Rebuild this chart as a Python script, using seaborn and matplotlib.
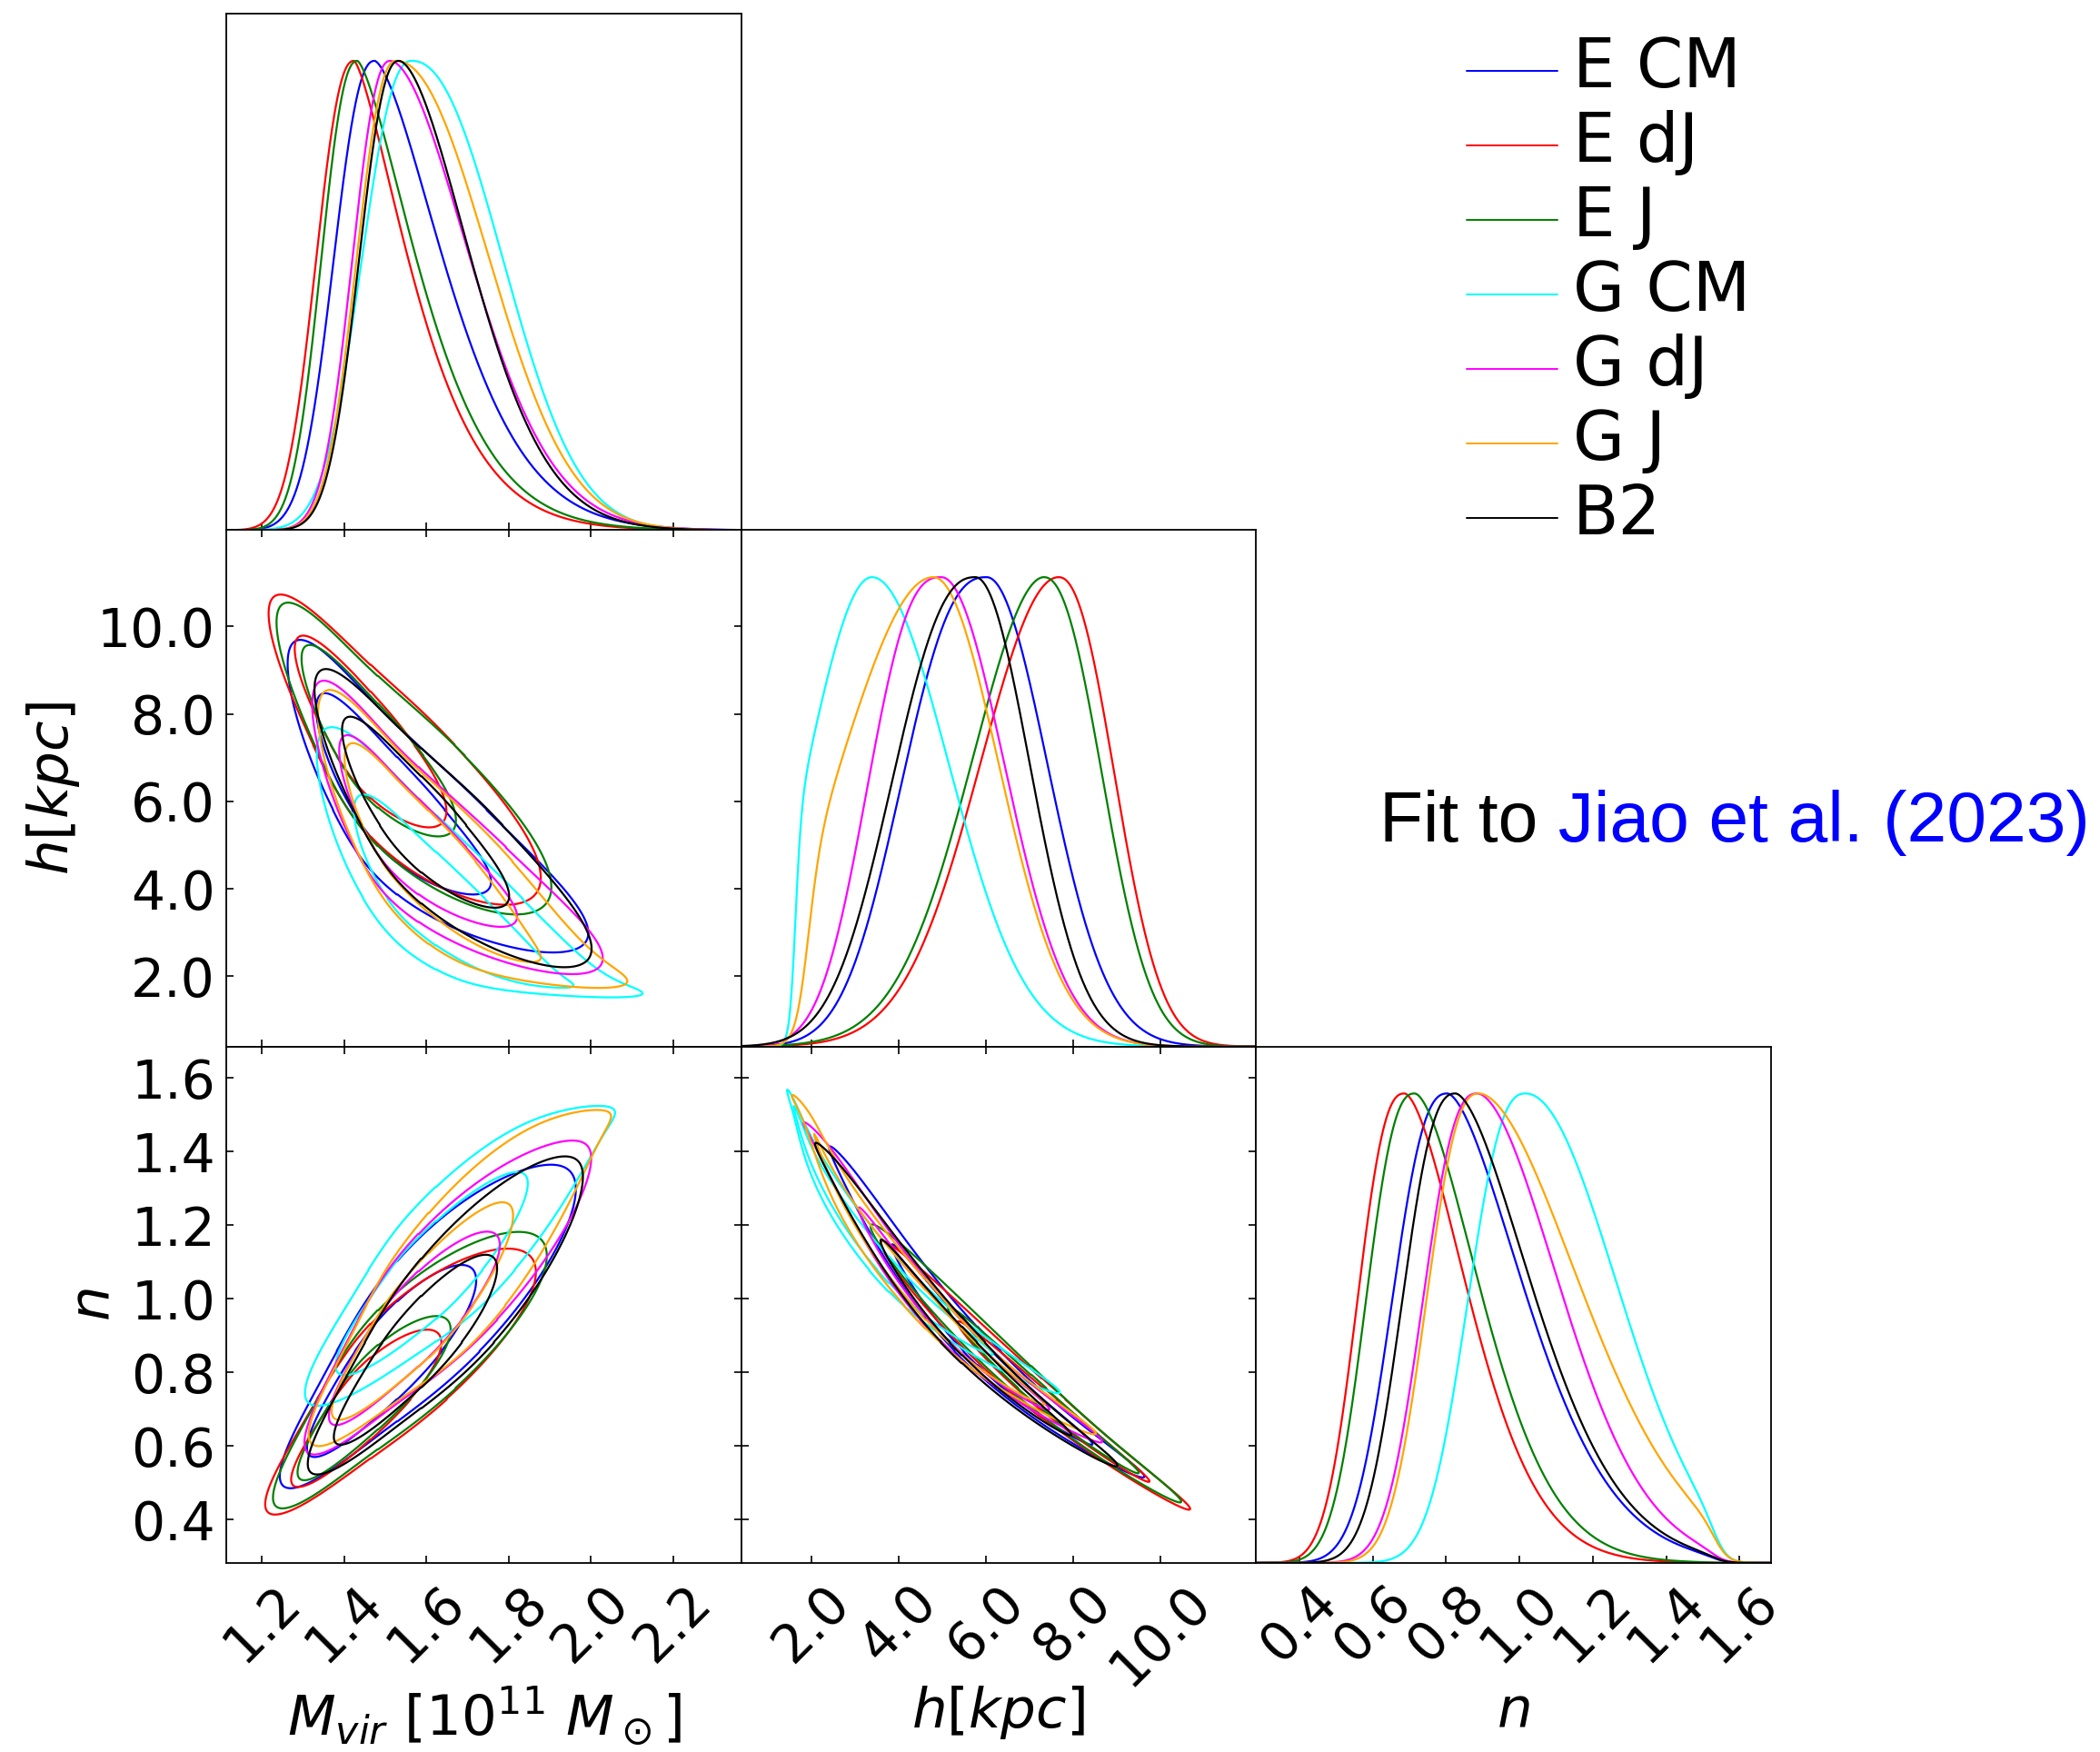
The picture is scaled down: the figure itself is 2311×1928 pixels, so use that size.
import math
import numpy as np
import pandas as pd
import matplotlib
matplotlib.use("Agg")
import matplotlib.pyplot as plt
from matplotlib.lines import Line2D
from matplotlib.ticker import FormatStrFormatter
import seaborn as sns

# ---------------------------------------------------------------- data
labels = ["E CM", "E dJ", "E J", "G CM", "G dJ", "G J", "B2"]
colors = ["blue", "red", "green", "cyan", "magenta", "orange", "black"]

# Marginal posteriors: mode, half width at half maximum below / above the
# mode, tail exponent on each side (2 = Gaussian fall-off) and soft lower /
# upper bounds with their edge widths.
mvir_peak = [1.474, 1.424, 1.432, 1.564, 1.512, 1.526, 1.533]
mvir_hw_lo = [0.110, 0.102, 0.097, 0.134, 0.102, 0.106, 0.107]
mvir_hw_hi = [0.194, 0.156, 0.169, 0.247, 0.222, 0.254, 0.201]
mvir_p_lo = [2.3, 2.3, 2.3, 2.3, 2.3, 2.3, 2.3]
mvir_p_hi = [1.55, 1.40, 1.45, 2.2, 1.8, 2.1, 1.75]
mvir_bound_lo = [0.0, 0.0, 0.0, 0.0, 0.0, 0.0, 0.0]
mvir_bound_hi = [9.0, 9.0, 9.0, 9.0, 9.0, 9.0, 9.0]
mvir_edge = [0.05, 0.05, 0.05, 0.05, 0.05, 0.05, 0.05]

h_peak = [6.02, 7.67, 7.33, 3.39, 4.98, 4.80, 5.76]
h_hw_lo = [2.10, 2.10, 1.96, 1.73, 1.80, 2.51, 2.07]
h_hw_hi = [1.63, 1.43, 1.49, 2.06, 1.69, 1.75, 1.46]
h_p_lo = [2.5, 2.0, 1.9, 2.0, 2.6, 2.0, 2.4]
h_p_hi = [2.0, 2.2, 2.2, 2.0, 2.0, 2.0, 2.0]
h_bound_lo = [0.0, 0.0, 0.0, 1.62, 0.0, 1.88, 0.0]
h_bound_hi = [30.0, 30.0, 30.0, 30.0, 30.0, 30.0, 30.0]
h_edge = [0.10, 0.10, 0.10, 0.07, 0.10, 0.15, 0.10]

n_peak = [0.804, 0.687, 0.715, 1.017, 0.885, 0.890, 0.826]
n_hw_lo = [0.162, 0.138, 0.143, 0.169, 0.159, 0.154, 0.156]
n_hw_hi = [0.244, 0.198, 0.207, 0.287, 0.261, 0.321, 0.245]
n_p_lo = [2.5, 2.5, 2.5, 2.5, 2.5, 2.5, 2.5]
n_p_hi = [1.63, 1.66, 1.67, 2.0, 1.8, 1.8, 1.65]
n_bound_lo = [0.0, 0.0, 0.0, 0.0, 0.0, 0.0, 0.0]
n_bound_hi = [1.54, 1.54, 1.54, 1.54, 1.54, 1.54, 1.54]
n_edge = [0.02, 0.02, 0.02, 0.02, 0.02, 0.02, 0.02]

# Pairwise correlations (Gaussian copula)
rho_mvir_h = [-0.85, -0.85, -0.85, -0.84, -0.85, -0.85, -0.86]
rho_mvir_n = [0.88, 0.88, 0.88, 0.87, 0.88, 0.88, 0.89]
rho_h_n = [-0.99, -0.99, -0.99, -0.99, -0.99, -0.99, -0.99]

axis_ranges = [(1.114, 2.366), (0.393, 12.198), (0.282, 1.685)]
axis_ticks = [[1.2, 1.4, 1.6, 1.8, 2.0, 2.2],
              [2.0, 4.0, 6.0, 8.0, 10.0],
              [0.4, 0.6, 0.8, 1.0, 1.2, 1.4, 1.6]]
axis_labels = [r"$M_{vir}$ [$10^{11}$ $M_\odot$]", r"$h[kpc]$", r"$n$"]
contour_mass = [0.95, 0.68]

shapes = [
    (mvir_peak, mvir_hw_lo, mvir_hw_hi, mvir_p_lo, mvir_p_hi,
     mvir_bound_lo, mvir_bound_hi, mvir_edge),
    (h_peak, h_hw_lo, h_hw_hi, h_p_lo, h_p_hi, h_bound_lo, h_bound_hi, h_edge),
    (n_peak, n_hw_lo, n_hw_hi, n_p_lo, n_p_hi, n_bound_lo, n_bound_hi, n_edge),
]
pair_rho = {(1, 0): rho_mvir_h, (2, 0): rho_mvir_n, (2, 1): rho_h_n}


def shape_of(k, s):
    return tuple(arr[s] for arr in shapes[k])


def sigmoid(u):
    return 0.5 * (1.0 + np.tanh(0.5 * u))


def marginal(x, peak, hw_lo, hw_hi, p_lo, p_hi, b_lo, b_hi, edge):
    """Two-sided peaked profile (value 1/2 at peak -/+ half widths) with soft bounds."""
    d = x - peak
    lo = d < 0
    hw = np.where(lo, hw_lo, hw_hi)
    p = np.where(lo, p_lo, p_hi)
    sigma = hw / (2.0 * np.log(2.0)) ** (1.0 / p)
    f = np.exp(-0.5 * (np.abs(d) / sigma) ** p)
    return f * sigmoid((x - b_lo) / edge) * sigmoid((b_hi - x) / edge)


# standard normal table for the copula transform
_zt = np.linspace(-8.5, 8.5, 34001)
_phi = 0.5 * (1.0 + np.vectorize(math.erf)(_zt / math.sqrt(2.0)))


def normal_scores(x, f):
    """Gaussian scores of the cumulative marginal evaluated on grid x."""
    dx = np.gradient(x)
    cdf = np.cumsum(f * dx)
    sf = np.cumsum((f * dx)[::-1])[::-1]
    tot = cdf[-1]
    cdf = np.clip(cdf / tot, 1e-15, 1.0)
    sf = np.clip(sf / tot, 1e-15, 1.0)
    z_lo = np.interp(cdf, _phi, _zt)
    z_hi = -np.interp(sf, _phi, _zt)
    return np.where(cdf < 0.5, z_lo, z_hi)


def mass_levels(dens, fracs):
    flat = np.sort(dens.ravel())[::-1]
    cum = np.cumsum(flat)
    cum /= cum[-1]
    return sorted(flat[np.searchsorted(cum, f)] for f in fracs)


# ---------------------------------------------------------------- style
sns.set_style("ticks")
plt.rcParams.update({
    "font.family": ["DejaVu Sans"],
    "mathtext.fontset": "dejavusans",
    "axes.edgecolor": "black",
    "axes.linewidth": 1.3,
    "xtick.color": "black",
    "ytick.color": "black",
    "text.color": "black",
    "axes.labelcolor": "black",
})

fig = plt.figure(figsize=(23.11, 19.28), dpi=100)
L0, W, T0, H = 0.1079, 0.2451, 0.99206, 0.2947
axes = {}
for i in range(3):
    for j in range(i + 1):
        axes[i, j] = fig.add_axes([L0 + j * W, T0 - (i + 1) * H, W, H])

palette = dict(zip(labels, colors))
LW = 1.6
TICK_FS = 42
LABEL_FS = 44
NGRID = 700

# ---------------------------------------------------------------- 1D marginals
for k in range(3):
    ax = axes[k, k]
    x = np.linspace(*axis_ranges[k], 900)
    frames = []
    for s in range(len(labels)):
        f = marginal(x, *shape_of(k, s))
        frames.append(pd.DataFrame({"x": x, "density": f / f.max(),
                                    "model": labels[s]}))
    df = pd.concat(frames, ignore_index=True)
    sns.lineplot(data=df, x="x", y="density", hue="model", hue_order=labels,
                 palette=palette, estimator=None, sort=False, legend=False,
                 linewidth=LW, ax=ax)
    ax.set_xlim(axis_ranges[k])
    ax.set_ylim(0, 1.1)
    ax.set_yticks([])
    ax.set_ylabel("")
    ax.set_xlabel("")
    ax.tick_params(axis="x", direction="in", length=6, width=1.2,
                   labelsize=TICK_FS, top=False, bottom=True, pad=10)

# ---------------------------------------------------------------- 2D contours
for (i, j), rhos in pair_rho.items():
    ax = axes[i, j]
    xs = np.linspace(*axis_ranges[j], NGRID)
    ys = np.linspace(*axis_ranges[i], NGRID)
    X, Y = np.meshgrid(xs, ys)
    for s in range(len(labels)):
        fx = marginal(xs, *shape_of(j, s))
        fy = marginal(ys, *shape_of(i, s))
        zx = normal_scores(xs, fx)
        zy = normal_scores(ys, fy)
        ZX, ZY = np.meshgrid(zx, zy)
        FX, FY = np.meshgrid(fx, fy)
        r = rhos[s]
        Q = (ZX ** 2 - 2 * r * ZX * ZY + ZY ** 2) / (1 - r ** 2)
        logd = -0.5 * Q + 0.5 * (ZX ** 2 + ZY ** 2) + np.log(FX + 1e-300) + np.log(FY + 1e-300)
        D = np.exp(logd - logd.max())
        ax.contour(X, Y, D, levels=mass_levels(D, contour_mass),
                   colors=[colors[s]], linewidths=LW)
    ax.set_xlim(axis_ranges[j])
    ax.set_ylim(axis_ranges[i])
    ax.set_yticks(axis_ticks[i])
    ax.tick_params(direction="in", length=6, width=1.2, labelsize=TICK_FS,
                   top=True, right=True, bottom=True, left=True)
    ax.tick_params(axis="y", pad=9)
    ax.tick_params(axis="x", pad=10)
    ax.yaxis.set_major_formatter(FormatStrFormatter("%.1f"))
    if j > 0:
        ax.tick_params(axis="y", labelleft=False)

# shared tick layout
for (i, j), ax in axes.items():
    ax.set_xticks(axis_ticks[j])
    ax.xaxis.set_major_formatter(FormatStrFormatter("%.1f"))
    if i < 2:
        ax.tick_params(axis="x", labelbottom=False)
    else:
        ax.tick_params(axis="x", labelrotation=45)
        ax.set_xlabel(axis_labels[j], fontsize=LABEL_FS)
        ax.xaxis.set_label_coords(0.5, -0.235)
    for sp in ax.spines.values():
        sp.set_color("black")
        sp.set_linewidth(1.3)

axes[1, 0].set_ylabel(axis_labels[1], fontsize=LABEL_FS)
axes[1, 0].yaxis.set_label_coords(-0.281, 0.5)
axes[2, 0].set_ylabel(axis_labels[2], fontsize=LABEL_FS)
axes[2, 0].yaxis.set_label_coords(-0.207, 0.5)

# ---------------------------------------------------------------- legend
handles = [Line2D([0], [0], color=c, lw=1.4) for c in colors]
leg = fig.legend(handles, labels, loc="upper left", bbox_to_anchor=(0.6984, 0.98),
                 frameon=False, fontsize=36, handlelength=2.0, handletextpad=0.34,
                 labelspacing=0.18, borderpad=0, borderaxespad=0)
for t in leg.get_texts():
    t.set_fontsize(53)

# ---------------------------------------------------------------- annotation
t1 = fig.text(0.657, 0.5197, "Fit to", fontsize=56.5, family=["Liberation Sans"],
              ha="left", va="baseline")
axes[0, 0].annotate(" Jiao et al. (2023)", xy=(1, 0), xycoords=t1,
                    ha="left", va="bottom", fontsize=56.5, color="blue",
                    family=["Liberation Sans"], annotation_clip=False)

fig.savefig("out.png", dpi=100)
